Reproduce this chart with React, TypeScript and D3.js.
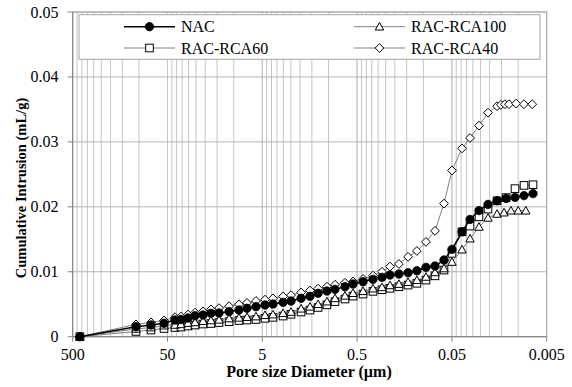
import React from "react";
import * as d3 from "d3";

// ---- data (pore diameter in µm, cumulative intrusion in mL/g) ----
const baseDiameters = [420, 107.5, 74.7, 54.4, 41.7, 36.0, 30.4, 25.6, 21.1, 17.4, 14.3, 11.2, 8.81, 7.25, 5.83, 4.68, 3.86, 3.02, 2.49, 1.95, 1.57, 1.29, 1.04, 0.855, 0.671, 0.552, 0.433, 0.34, 0.273, 0.225, 0.181, 0.145, 0.117, 0.0938, 0.0754, 0.0606, 0.0499, 0.0391, 0.0322, 0.0259, 0.0208, 0.0167];
const tailAll = [0.0134, 0.0108, 0.00868, 0.00697];
const tailRCA100 = [0.0141, 0.0119, 0.01, 0.0083];
const tailRCA40 = [0.0152, 0.0138, 0.0125, 0.0105, 0.0087, 0.0071];

const nacDiam = [...baseDiameters, ...tailAll];
const rca100Diam = [...baseDiameters, ...tailRCA100];
const rca60Diam = [...baseDiameters, ...tailAll];
const rca40Diam = [...baseDiameters, ...tailRCA40];

const nacValues = [0, 0.00154, 0.0018, 0.00206, 0.00257, 0.00265, 0.00288, 0.00323, 0.00334, 0.0036, 0.00365, 0.00385, 0.00411, 0.00437, 0.00462, 0.00488, 0.00503, 0.00529, 0.00549, 0.00591, 0.00622, 0.00668, 0.00703, 0.00729, 0.00769, 0.00811, 0.00846, 0.00883, 0.00914, 0.00949, 0.00965, 0.00985, 0.01015, 0.01068, 0.01088, 0.0118, 0.01345, 0.01615, 0.01806, 0.01942, 0.02037, 0.02095, 0.02129, 0.02145, 0.02172, 0.02203];
const rca100Values = [0, 0.0012, 0.0014, 0.0017, 0.0018, 0.0019, 0.0021, 0.0022, 0.0024, 0.0025, 0.0026, 0.0028, 0.0029, 0.003, 0.0031, 0.0033, 0.0034, 0.0036, 0.0038, 0.0043, 0.0046, 0.005, 0.0054, 0.0059, 0.0063, 0.0067, 0.007, 0.0074, 0.0076, 0.0079, 0.0081, 0.0084, 0.0087, 0.0092, 0.0099, 0.0105, 0.0115, 0.0134, 0.0151, 0.0169, 0.0183, 0.0189, 0.0191, 0.0194, 0.0194, 0.0194];
const rca60Values = [0, 0.0008, 0.00103, 0.00126, 0.00142, 0.00149, 0.00165, 0.0018, 0.00195, 0.00203, 0.00218, 0.00231, 0.00249, 0.00257, 0.00265, 0.00283, 0.00298, 0.00318, 0.00345, 0.0038, 0.0041, 0.0045, 0.0049, 0.0054, 0.0058, 0.00625, 0.00657, 0.00698, 0.00723, 0.00745, 0.00769, 0.00795, 0.00822, 0.00872, 0.00937, 0.01026, 0.01283, 0.01615, 0.01703, 0.01846, 0.01965, 0.02092, 0.02142, 0.0228, 0.0233, 0.0234];
const rca40Values = [0, 0.0019, 0.0022, 0.0025, 0.003, 0.0031, 0.0034, 0.0037, 0.0039, 0.0042, 0.0044, 0.0047, 0.005, 0.0052, 0.0055, 0.0057, 0.0059, 0.0062, 0.0064, 0.0068, 0.0071, 0.0074, 0.0077, 0.008, 0.0083, 0.0085, 0.0089, 0.0094, 0.01, 0.0108, 0.0112, 0.0123, 0.0132, 0.0146, 0.0163, 0.0205, 0.0256, 0.029, 0.0306, 0.0325, 0.0345, 0.0355, 0.0357, 0.0358, 0.0358, 0.0359, 0.0358, 0.0358];

const seriesNames = ["NAC", "RAC-RCA100", "RAC-RCA60", "RAC-RCA40"];
const xTickValues = [500, 50, 5, 0.5, 0.05, 0.005];
const xTickLabels = ["500", "50", "5", "0.5", "0.05", "0.005"];
const yTickValues = [0, 0.01, 0.02, 0.03, 0.04, 0.05];
const yTickLabels = ["0", "0.01", "0.02", "0.03", "0.04", "0.05"];

const W = 572, H = 387;
const L = 72.7, R = 546.7, T = 12, B = 336.7;

type Shape = "circle" | "triangle" | "square" | "diamond";

function Marker({ shape, x, y }: { shape: Shape; x: number; y: number }) {
  if (shape === "circle") return <circle cx={x} cy={y} r={4.2} fill="#000" stroke="#000" strokeWidth={0.8} />;
  if (shape === "square") return <rect x={x - 3.8} y={y - 3.8} width={7.6} height={7.6} fill="#fff" stroke="#000" strokeWidth={1} />;
  if (shape === "triangle") return <path d={`M${x},${y - 4.3}L${x + 4.2},${y + 3.3}L${x - 4.2},${y + 3.3}Z`} fill="#fff" stroke="#000" strokeWidth={1} />;
  return <path d={`M${x},${y - 4.4}L${x + 4.4},${y}L${x},${y + 4.4}L${x - 4.4},${y}Z`} fill="#fff" stroke="#000" strokeWidth={1} />;
}

const FONT = "'Liberation Serif', 'Times New Roman', serif";

export default function App() {
  const x = d3.scaleLog().domain([500, 0.005]).range([L, R]);
  const y = d3.scaleLinear().domain([0, 0.05]).range([B, T]);

  const series = [
    { name: seriesNames[0], diam: nacDiam, vals: nacValues, shape: "circle" as Shape, color: "#000", lw: 1.5 },
    { name: seriesNames[1], diam: rca100Diam, vals: rca100Values, shape: "triangle" as Shape, color: "#808080", lw: 1 },
    { name: seriesNames[2], diam: rca60Diam, vals: rca60Values, shape: "square" as Shape, color: "#808080", lw: 1 },
    { name: seriesNames[3], diam: rca40Diam, vals: rca40Values, shape: "diamond" as Shape, color: "#808080", lw: 1 },
  ];
  const drawOrder = [3, 2, 1, 0];

  const grid: number[] = [];
  for (let n = -3; n <= 1; n++) {
    for (let k = 1; k <= 10; k++) grid.push(k * 5 * Math.pow(10, n));
  }

  const line = d3.line<[number, number]>().x((d) => x(d[0])).y((d) => y(d[1]));

  const legendItems = [
    { idx: 0, lx: 124, ly: 26.7 },
    { idx: 1, lx: 354, ly: 26.7 },
    { idx: 2, lx: 124, ly: 48 },
    { idx: 3, lx: 354, ly: 48 },
  ];

  const ts = { fontFamily: FONT };

  return (
    <svg width={W} height={H} style={{ position: "absolute", left: 0, top: 0, background: "#fff", fontFamily: FONT }}>
      <rect x={0} y={0} width={W} height={H} fill="#fff" />
      {grid.map((g, i) => (
        <line key={"gx" + i} x1={x(g)} x2={x(g)} y1={T} y2={B} stroke="#c4c4c4" strokeWidth={1} />
      ))}
      {yTickValues.map((v, i) => (
        <line key={"gy" + i} x1={L} x2={R} y1={y(v)} y2={y(v)} stroke="#b4b4b4" strokeWidth={1} />
      ))}
      <rect x={L} y={T} width={R - L} height={B - T} fill="none" stroke="#a6a6a6" strokeWidth={1} />
      <line x1={L} x2={L} y1={T} y2={B + 0.5} stroke="#868686" strokeWidth={1} />
      <line x1={L} x2={R} y1={B} y2={B} stroke="#868686" strokeWidth={1} />
      {yTickValues.map((v, i) => (
        <line key={"ty" + i} x1={L - 5} x2={L} y1={y(v)} y2={y(v)} stroke="#868686" />
      ))}
      {xTickValues.map((v, i) => (
        <line key={"tx" + i} x1={x(v)} x2={x(v)} y1={B} y2={B + 5} stroke="#868686" />
      ))}
      {yTickValues.map((v, i) => (
        <text key={"ly" + i} x={58.5} y={y(v) + 5.5} textAnchor="end" fontSize={16} fill="#000" style={ts}>
          {yTickLabels[i]}
        </text>
      ))}
      {xTickValues.map((v, i) => (
        <text key={"lx" + i} x={x(v)} y={359.5} textAnchor="middle" fontSize={16} fill="#000" style={ts}>
          {xTickLabels[i]}
        </text>
      ))}
      <text x={309} y={377} textAnchor="middle" fontSize={16} fontWeight="bold" fill="#000" style={ts}>
        Pore size Diameter (µm)
      </text>
      <text transform={`translate(26,188) rotate(-90)`} textAnchor="middle" fontSize={14.5} fontWeight="bold" fill="#000" style={ts}>
        Cumulative Intrusion (mL/g)
      </text>
      {drawOrder.map((si) => {
        const s = series[si];
        const pts: [number, number][] = s.diam.map((d, i) => [d, s.vals[i]]);
        return (
          <g key={s.name}>
            <path d={line(pts) || ""} fill="none" stroke={s.color} strokeWidth={s.lw} />
            {pts.map((p, i) => (
              <Marker key={i} shape={s.shape} x={x(p[0])} y={y(p[1])} />
            ))}
          </g>
        );
      })}
      <rect x={79} y={14.7} width={461} height={44.6} fill="#fff" stroke="#a6a6a6" strokeWidth={1} />
      {legendItems.map((it) => {
        const s = series[it.idx];
        return (
          <g key={"leg" + it.idx}>
            <line x1={it.lx} x2={it.lx + 51} y1={it.ly} y2={it.ly} stroke={s.color} strokeWidth={s.lw} />
            <Marker shape={s.shape} x={it.lx + 25.5} y={it.ly} />
            <text x={it.lx + 57} y={it.ly + 5.5} fontSize={16} fill="#000" style={ts}>
              {s.name}
            </text>
          </g>
        );
      })}
    </svg>
  );
}
